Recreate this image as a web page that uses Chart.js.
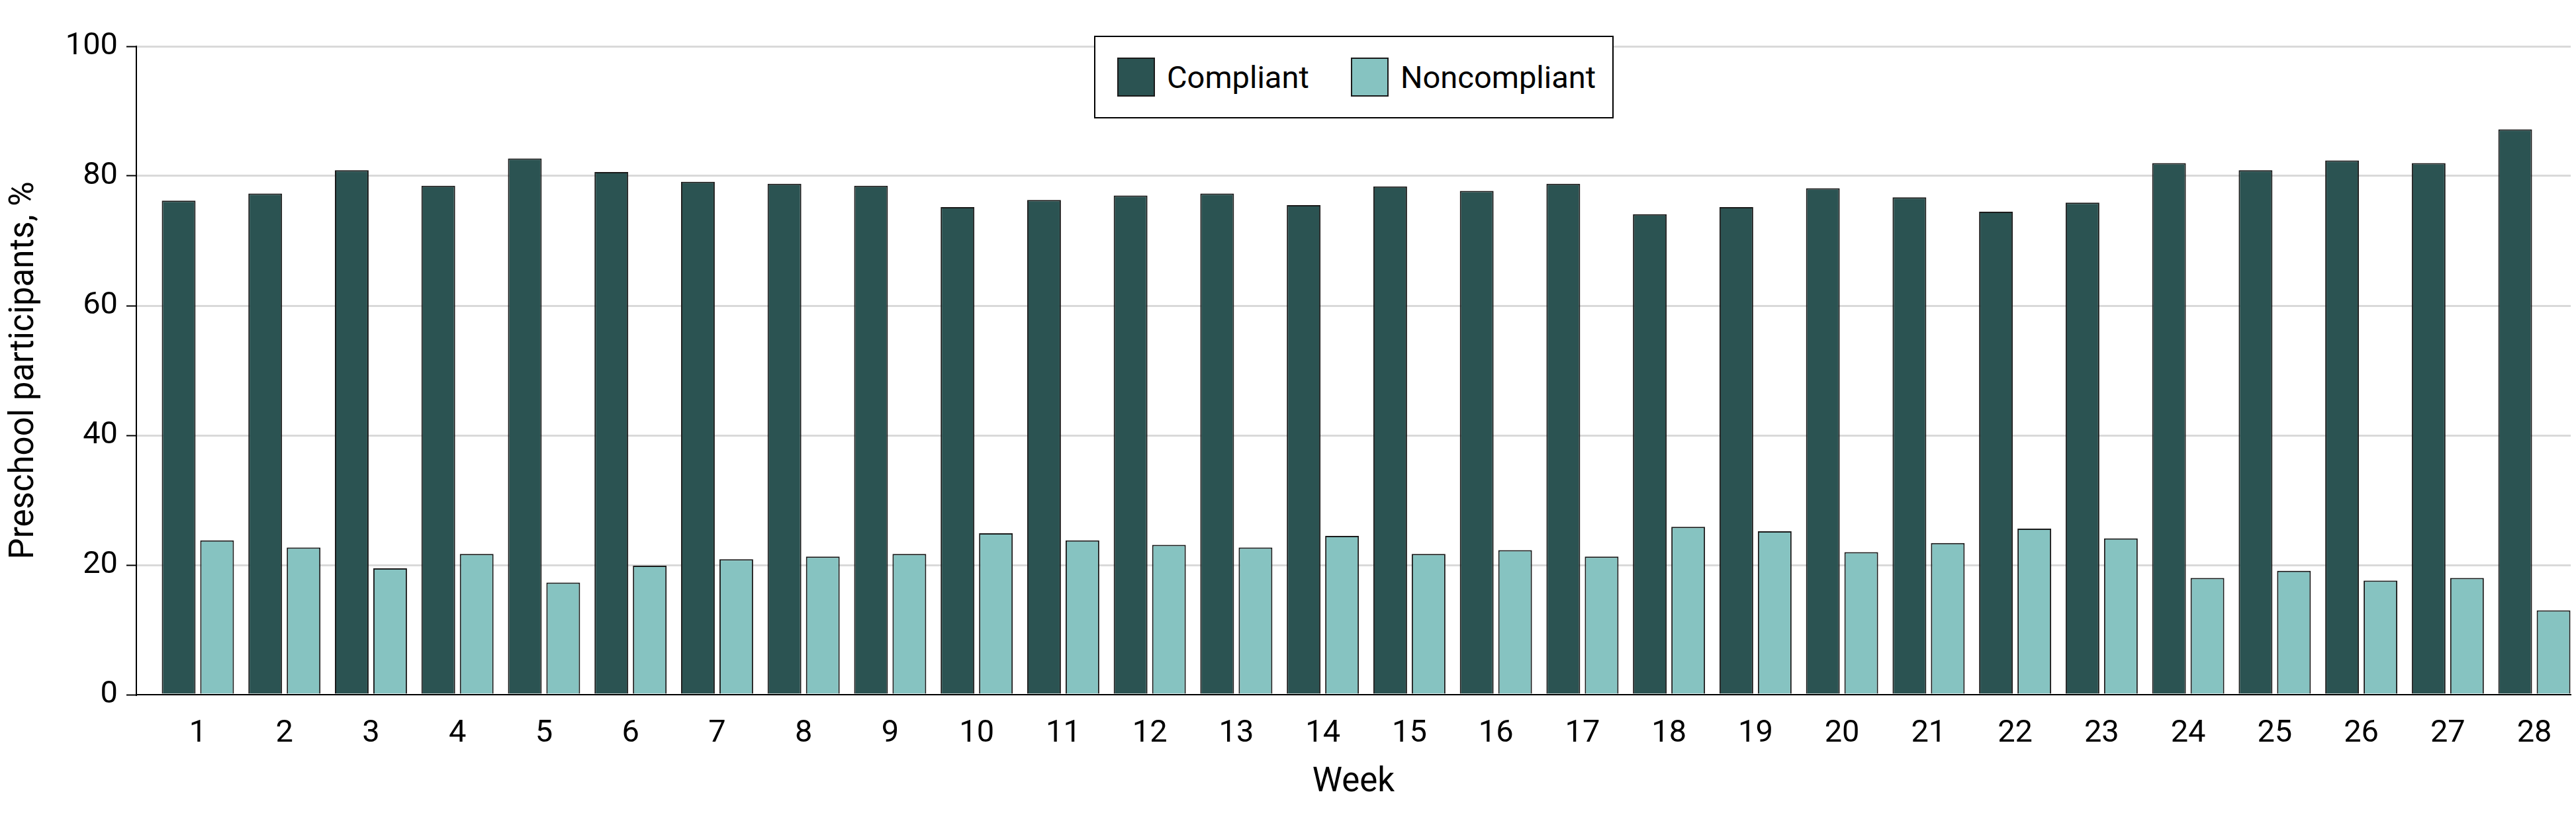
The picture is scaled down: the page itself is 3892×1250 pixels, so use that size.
<!DOCTYPE html>
<html>
<head>
<meta charset="utf-8">
<script src="https://cdn.jsdelivr.net/npm/chart.js@4.4.1/dist/chart.umd.min.js"></script>
<style>
  html, body { margin: 0; padding: 0; background: #fff; }
  #wrap { position: relative; width: 3892px; height: 1250px; }
  #legend {
    position: absolute; left: 1653px; top: 54px; width: 785px; height: 125px;
    box-sizing: border-box; border: 2px solid #000; background: #fff;
    font-family: Roboto, sans-serif; font-size: 47px; color: #000;
  }
  .item { position: absolute; top: 31px; display: flex; align-items: center; }
  .swatch { width: 57px; height: 59px; box-sizing: border-box; border: 2px solid #1a1a1a; margin-right: 18px; }
</style>
</head>
<body>
<div id="wrap">
  <canvas id="chart"></canvas>
  <div id="legend"></div>
</div>
<script>
const weeks = [1, 2, 3, 4, 5, 6, 7, 8, 9, 10, 11, 12, 13, 14, 15, 16, 17, 18, 19, 20, 21, 22, 23, 24, 25, 26, 27, 28];
const compliant = [76.2, 77.3, 80.9, 78.5, 82.7, 80.6, 79.1, 78.8, 78.5, 75.2, 76.3, 77.0, 77.3, 75.5, 78.4, 77.7, 78.8, 74.1, 75.2, 78.1, 76.7, 74.5, 75.9, 82.0, 80.9, 82.4, 82.0, 87.2];
const noncompliant = [23.8, 22.7, 19.5, 21.7, 17.3, 19.9, 20.9, 21.3, 21.7, 24.9, 23.8, 23.1, 22.7, 24.5, 21.7, 22.3, 21.3, 25.9, 25.2, 22.0, 23.4, 25.6, 24.1, 18.0, 19.1, 17.6, 18.0, 13.0];
const yTicks = [0, 20, 40, 60, 80, 100];

const series = [
  { label: 'Compliant', values: compliant, color: '#2b5352' },
  { label: 'Noncompliant', values: noncompliant, color: '#86c3c1' },
];

Chart.defaults.font.family = 'Roboto, sans-serif';
Chart.defaults.color = '#000';

const datasets = series.map((s) => ({
  label: s.label,
  data: weeks.map((w, i) => ({ x: w, y: s.values[i] })),
  backgroundColor: s.color,
  borderColor: '#1a1a1a',
  borderWidth: 2,
  categoryPercentage: 0.887,
  barPercentage: 0.879,
}));

new Chart(document.getElementById('chart'), {
  type: 'bar',
  data: { datasets },
  options: {
    responsive: true,
    maintainAspectRatio: false,
    animation: false,
    devicePixelRatio: 1,
    layout: { padding: { top: 70, right: 8, bottom: 0, left: 0 } },
    plugins: {
      legend: { display: false },
      tooltip: { enabled: false },
    },
    scales: {
      x: {
        type: 'linear',
        min: 0.289,
        max: 28.42,
        offset: false,
        grid: { display: false, offset: false },
        border: { display: true, color: '#000', width: 2 },
        ticks: {
          stepSize: 1,
          includeBounds: false,
          autoSkip: false,
          maxRotation: 0,
          padding: 23,
          font: { size: 47 },
          color: '#000',
        },
        title: {
          display: true,
          text: 'Week',
          font: { size: 51 },
          color: '#000',
          padding: { top: 0, bottom: 36 },
        },
        afterFit: (scale) => { scale.height = 200; },
      },
      y: {
        min: 0,
        max: 100,
        afterBuildTicks: (scale) => { scale.ticks = yTicks.map((v) => ({ value: v })); },
        grid: {
          color: (ctx) => (ctx.tick && ctx.tick.value === 0 ? 'rgba(0,0,0,0)' : '#d9d9d9'),
          lineWidth: 3,
          tickLength: 15,
          tickColor: '#000',
          tickWidth: 2,
        },
        border: { display: true, color: '#000', width: 2 },
        ticks: {
          padding: 13,
          font: { size: 47 },
          color: '#000',
        },
        title: {
          display: true,
          text: 'Preschool participants, %',
          font: { size: 51 },
          color: '#000',
          padding: { top: 7, bottom: 0 },
        },
        afterFit: (scale) => { scale.width = 206; },
      },
    },
  },
});

// legend box drawn over the plot, like the original
const legend = document.getElementById('legend');
const itemLeft = [33, 386];
series.forEach((s, i) => {
  const item = document.createElement('div');
  item.className = 'item';
  item.style.left = itemLeft[i] + 'px';
  const sw = document.createElement('span');
  sw.className = 'swatch';
  sw.style.background = s.color;
  const txt = document.createElement('span');
  txt.textContent = s.label;
  item.appendChild(sw);
  item.appendChild(txt);
  legend.appendChild(item);
});
</script>
</body>
</html>
